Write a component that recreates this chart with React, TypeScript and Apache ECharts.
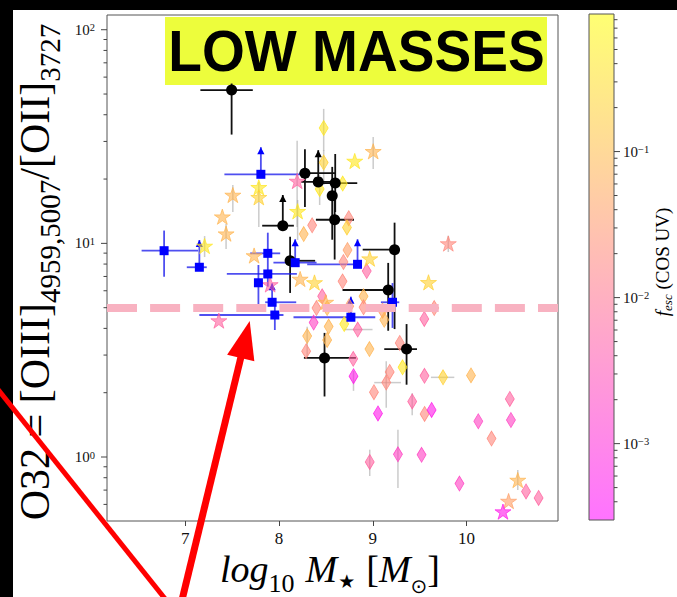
import React, { useEffect, useRef } from 'react';
import * as echarts from 'echarts';

// ---------- axis ranges ----------
const X_MIN = 6.165;
const X_MAX = 10.975;
const Y_MIN = 0.5017;
const Y_MAX = 117.2;
const F_MIN = 0.0003;
const F_MAX = 0.875;
const O32_THRESHOLD = 5;

// ---------- ticks ----------
const xTickValues = [7, 8, 9, 10];
const yTickValues = [1, 10, 100];
const yMinorTickValues = [0.6, 0.7, 0.8, 0.9, 2, 3, 4, 5, 6, 7, 8, 9, 20, 30, 40, 50, 60, 70, 80, 90];
const cbTickValues = [0.001, 0.01, 0.1];
const cbMinorTickValues = [0.0004, 0.0005, 0.0006, 0.0007, 0.0008, 0.0009, 0.002, 0.003, 0.004, 0.005, 0.006, 0.007, 0.008, 0.009, 0.02, 0.03, 0.04, 0.05, 0.06, 0.07, 0.08, 0.09, 0.2, 0.3, 0.4, 0.5, 0.6, 0.7, 0.8];

// ---------- stars (colour = f_esc) ----------
const starLogM = [7.507, 7.395, 7.435, 7.784, 7.784, 8.193, 8.198, 7.206, 7.734, 9.004, 8.807, 9.805, 8.967, 8.225, 8.378, 7.905, 7.358, 9.594, 8.497, 10.546, 10.448, 10.388];
const starO32 = [16.84, 13.33, 11.1, 18.3, 16.43, 19.58, 14.13, 9.72, 8.77, 26.97, 24.29, 9.98, 8.48, 6.81, 6.56, 6.42, 4.35, 6.57, 5.31, 0.78, 0.622, 0.555];
const starFesc = [0.08, 0.08, 0.08, 0.4, 0.2, 0.006, 0.4, 0.4, 0.08, 0.08, 0.4, 0.02, 0.2, 0.08, 0.2, 0.006, 0.006, 0.2, 0.08, 0.08, 0.04, 0.0006];
const starO32Lo = [14.02, null, 9.41, null, 11.93, 11.93, 10.37, 8.63, null, 22.3, null, 9.11, null, null, null, null, null, null, null, 0.7, null, null];
const starO32Hi = [18.76, null, 12.32, null, 19.37, 30.2, 15.95, 10.82, null, 31.5, null, 10.86, null, null, null, null, null, null, null, 0.869, null, null];

// ---------- thin diamonds (colour = f_esc) ----------
const diaLogM = [8.476, 8.476, 8.433, 8.679, 8.353, 8.263, 8.743, 8.724, 8.73, 8.687, 8.935, 8.677, 8.46, 8.399, 8.369, 8.3, 8.289, 8.513, 8.529, 8.513, 8.901, 8.901, 8.748, 8.695, 8.839, 9.104, 9.122, 9.655, 9.549, 8.964, 9.287, 8.791, 8.794, 9.317, 9.18, 9.143, 9.012, 9.551, 9.749, 10.047, 9.42, 9.055, 9.552, 9.627, 10.125, 10.266, 10.461, 10.473, 8.967, 9.268, 9.52, 9.924, 10.634, 10.768];
const diaO32 = [34.67, 23.9, 17.97, 19.06, 12.15, 11.06, 13.11, 11.87, 9.31, 8.18, 7.42, 6.64, 5.65, 4.98, 4.26, 3.68, 3.13, 4.98, 4.08, 3.53, 5.65, 5.02, 5.08, 4.19, 3.95, 4.84, 4.39, 4.98, 4.43, 3.2, 3.42, 2.88, 2.39, 2.63, 2.5, 2.23, 2.01, 2.4, 2.36, 2.41, 1.82, 1.6, 1.59, 1.66, 1.47, 1.22, 1.87, 1.49, 0.948, 1.03, 1.024, 0.751, 0.69, 0.643];
const diaFesc = [0.4, 0.2, 0.4, 0.4, 0.02, 0.08, 0.02, 0.2, 0.04, 0.02, 0.006, 0.02, 0.006, 0.02, 0.002, 0.08, 0.02, 0.08, 0.08, 0.08, 0.08, 0.02, 0.04, 0.4, 0.006, 0.04, 0.08, 0.02, 0.006, 0.08, 0.02, 0.006, 0.0006, 0.4, 0.02, 0.02, 0.02, 0.006, 0.2, 0.08, 0.006, 0.0006, 0.02, 0.0006, 0.002, 0.02, 0.006, 0.002, 0.006, 0.002, 0.002, 0.002, 0.006, 0.006];
const diaO32Lo: (number | null)[] = [27.1, 18.76, 15.12, null, null, null, null, null, null, null, null, null, null, null, null, 2.95, null, null, null, null, null, null, null, null, null, null, null, null, null, null, null, null, 2.04, null, null, 1.7, null, null, null, null, 1.57, null, null, null, null, null, null, null, 0.815, 0.716, null, null, null, null];
const diaO32Hi: (number | null)[] = [42.6, 27.3, 20.9, null, null, null, null, null, null, null, null, null, null, null, null, 4.07, null, null, null, null, null, null, null, null, null, null, null, null, null, null, null, null, 2.53, null, null, 2.81, null, null, null, null, 1.99, null, null, null, null, null, null, null, 1.082, 1.34, null, null, null, null];
const diaLogMLo: (number | null)[] = [null, null, null, null, null, null, null, null, null, null, null, null, null, null, null, null, null, null, null, null, null, null, null, null, 8.695, null, null, null, null, null, null, null, null, null, null, 9.015, null, null, 9.62, null, null, null, null, null, null, null, null, null, null, null, null, null, null, null];
const diaLogMHi: (number | null)[] = [null, null, null, null, null, null, null, null, null, null, null, null, null, null, null, null, null, null, null, null, null, null, null, null, 8.997, null, null, null, null, null, null, null, null, null, null, 9.3, null, null, 9.869, null, null, null, null, null, null, null, null, null, null, null, null, null, null, null];

// ---------- black circles ----------
const blkLogM = [7.494, 8.276, 8.418, 8.599, 8.567, 8.593, 8.04, 8.118, 9.232, 9.164, 9.36, 8.485];
const blkO32 = [52.2, 21.3, 19.4, 19.16, 16.7, 12.9, 12.1, 8.29, 9.34, 6.05, 3.2, 2.91];
const blkLogMLo = [7.161, 8.22, 8.236, 8.417, 8.567, 8.393, 7.82, 8.083, 8.892, 8.677, 9.122, 8.265];
const blkLogMHi = [7.72, 8.6, 8.609, 8.834, 8.567, 8.799, 8.158, 8.385, 9.26, 9.2, 9.471, 8.82];
const blkO32Lo = [32.3, 14.8, 19.4, 14.02, 10.4, 8.4, 12.1, 5.86, 3.97, 3.9, 2.18, 1.92];
const blkO32Hi = [56.0, 27.6, 27.3, 26.2, 22.8, 17.0, 16.84, 10.74, 12.5, 8.1, 4.19, 3.81];
const blkLowerLimit = [0, 0, 1, 0, 0, 0, 1, 0, 0, 0, 0, 0];

// ---------- blue squares ----------
const bluLogM = [7.806, 6.774, 7.15, 7.88, 7.88, 7.78, 7.926, 7.955, 8.172, 8.837, 8.766, 9.21];
const bluO32 = [21.05, 9.24, 7.73, 8.98, 7.19, 6.54, 5.3, 4.62, 8.12, 7.98, 4.51, 5.3];
const bluLogMLo = [7.417, 6.534, 7.016, 7.692, 7.443, 7.78, 7.852, 7.15, 7.94, 8.3, 8.154, 9.086];
const bluLogMHi = [8.225, 7.137, 7.229, 8.012, 8.19, 7.78, 8.183, 8.047, 8.4, 8.837, 9.026, 9.282];
const bluO32Lo = [21.05, 6.98, 7.73, 6.27, 7.19, 5.05, 5.3, 3.93, 8.12, 7.98, 4.51, 4.02];
const bluO32Hi = [28.2, 11.48, 10.37, 11.22, 7.19, 7.92, 6.5, 5.43, 10.45, 10.45, 5.63, 6.52];
const bluLowerLimit = [1, 0, 1, 0, 0, 0, 1, 0, 1, 1, 1, 0];

// ---------- helpers ----------
const SERIF = '"Liberation Serif", "Times New Roman", serif';
const SANS_SYM = '"DejaVu Sans", sans-serif';
const STAR_PATH = 'path://M50 0 L61.17 34.63 L97.55 34.55 L68.07 55.87 L79.39 90.45 L50 69 L20.61 90.45 L31.93 55.87 L2.45 34.55 L38.83 34.63 Z';

function springRGB(f: number): [number, number, number] {
  const lo = Math.log10(F_MIN);
  const hi = Math.log10(F_MAX);
  const t = Math.min(1, Math.max(0, (Math.log10(f) - lo) / (hi - lo)));
  return [255, Math.round(255 * t), Math.round(255 * (1 - t))];
}
function rgba(c: [number, number, number], a: number) {
  return `rgba(${c[0]},${c[1]},${c[2]},${a})`;
}

let _ctx: CanvasRenderingContext2D | null = null;
function measure(text: string, size: number, italic: boolean, family: string) {
  if (!_ctx) _ctx = document.createElement('canvas').getContext('2d');
  _ctx!.font = `${italic ? 'italic' : 'normal'} normal ${size}px ${family}`;
  return _ctx!.measureText(text).width;
}

type Piece = { t: string; size: number; italic?: boolean; dy?: number; gap?: number; family?: string };
function buildPieces(pieces: Piece[], color: string) {
  const widths = pieces.map((p) => measure(p.t, p.size, !!p.italic, p.family || SERIF));
  let total = 0;
  pieces.forEach((p, i) => (total += (p.gap || 0) + widths[i]));
  let x = -total / 2;
  const children: any[] = [];
  pieces.forEach((p, i) => {
    x += p.gap || 0;
    children.push({
      type: 'text',
      x,
      y: p.dy || 0,
      style: {
        text: p.t,
        fontSize: p.size,
        fontFamily: p.family || SERIF,
        fontStyle: p.italic ? 'italic' : 'normal',
        fill: color,
        align: 'left',
        verticalAlign: 'middle',
      },
    });
    x += widths[i];
  });
  return children;
}

function errData(xs: number[], ys: number[], xlo: any[], xhi: any[], ylo: any[], yhi: any[], lim?: number[]) {
  const out: number[][] = [];
  xs.forEach((x, i) => {
    const a = xlo[i] ?? x;
    const b = xhi[i] ?? x;
    const c = ylo[i] ?? ys[i];
    const d = yhi[i] ?? ys[i];
    if (a === x && b === x && c === ys[i] && d === ys[i]) return;
    out.push([x, ys[i], a, b, c, d, lim ? lim[i] : 0]);
  });
  return out;
}

function makeErrRender(stroke: string, width: number, head: string | null) {
  return (_params: any, api: any) => {
    const x = api.value(0);
    const y = api.value(1);
    const c = api.coord([x, y]);
    const l = api.coord([api.value(2), y]);
    const r = api.coord([api.value(3), y]);
    const b = api.coord([x, api.value(4)]);
    const t = api.coord([x, api.value(5)]);
    const lim = api.value(6);
    const children: any[] = [];
    if (r[0] - l[0] > 0.5) {
      children.push({ type: 'line', shape: { x1: l[0], y1: c[1], x2: r[0], y2: c[1] }, style: { stroke, lineWidth: width } });
    }
    if (b[1] - t[1] > 0.5) {
      children.push({ type: 'line', shape: { x1: c[0], y1: b[1], x2: c[0], y2: t[1] }, style: { stroke, lineWidth: width } });
    }
    if (lim && head) {
      children.push({
        type: 'polygon',
        shape: { points: [[c[0] - 3.6, t[1] + 7], [c[0] + 3.6, t[1] + 7], [c[0], t[1]]] },
        style: { fill: head },
      });
    }
    return { type: 'group', children };
  };
}

function tickRender(color: string) {
  return (_params: any, api: any) => {
    const p = api.coord([api.value(0), api.value(1)]);
    const len = api.value(2);
    return { type: 'line', shape: { x1: p[0], y1: p[1], x2: p[0] + len, y2: p[1] }, style: { stroke: color, lineWidth: 1 } };
  };
}

function buildOption() {
  const colorItems = (xs: number[], ys: number[], fs: number[]) =>
    xs.map((x, i) => {
      const c = springRGB(fs[i]);
      return { value: [x, ys[i], fs[i]], itemStyle: { color: rgba(c, 0.6), borderColor: rgba(c, 0.85), borderWidth: 0.8, opacity: 1 } };
    });

  const grayErr = [
    ...errData(starLogM, starO32, starLogM.map(() => null), starLogM.map(() => null), starO32Lo, starO32Hi),
    ...errData(diaLogM, diaO32, diaLogMLo, diaLogMHi, diaO32Lo, diaO32Hi),
  ];

  const tickLabelStyle = { fontFamily: SERIF, color: '#111' };

  const yMajorTicks = [
    ...yTickValues.map((v) => [X_MIN, v, -6]),
    ...yMinorTickValues.map((v) => [X_MIN, v, -3.5]),
  ];
  const cbTicks = [
    ...cbTickValues.map((v) => [1, v, 6]),
    ...cbMinorTickValues.map((v) => [1, v, 3.5]),
  ];

  const arrowTip = [249.7, 321];
  const arrowTail = [182, 600];
  const ux = arrowTip[0] - arrowTail[0];
  const uy = arrowTip[1] - arrowTail[1];
  const ul = Math.hypot(ux, uy);
  const u = [ux / ul, uy / ul];
  const nrm = [-u[1], u[0]];
  const headLen = 38;
  const headHalf = 14;
  const base = [arrowTip[0] - headLen * u[0], arrowTip[1] - headLen * u[1]];

  const richLabel = {
    b: { fontSize: 15, lineHeight: 15, fontFamily: SERIF, color: '#111', verticalAlign: 'bottom' },
    s: { fontSize: 10.5, lineHeight: 10.5, fontFamily: SERIF, color: '#111', padding: [0, 0, 7, 0], verticalAlign: 'top' },
  };

  return {
    animation: false,
    backgroundColor: '#ffffff',
    grid: [
      { left: 107, top: 15, width: 451, height: 506, show: true, borderColor: '#555', borderWidth: 1, backgroundColor: 'transparent' },
      { left: 589, top: 14, width: 25, height: 506 },
    ],
    xAxis: [
      {
        gridIndex: 0,
        type: 'value',
        min: X_MIN,
        max: X_MAX,
        axisLine: { show: false },
        splitLine: { show: false },
        axisTick: { show: true, length: 5, customValues: xTickValues, lineStyle: { color: '#444' } },
        axisLabel: { show: true, customValues: xTickValues, fontSize: 17, margin: 9, ...tickLabelStyle, formatter: (v: number) => String(Math.round(v)) },
      },
      { gridIndex: 1, type: 'value', min: 0, max: 1, show: false },
    ],
    yAxis: [
      {
        gridIndex: 0,
        type: 'log',
        logBase: 10,
        min: Y_MIN,
        max: Y_MAX,
        axisLine: { show: false },
        splitLine: { show: false },
        axisTick: { show: false },
        axisLabel: {
          show: true,
          customValues: yTickValues,
          margin: 12,
          formatter: (v: number) => `{b|10}{s|${Math.round(Math.log10(v))}}`,
          rich: richLabel,
        },
      },
      {
        gridIndex: 1,
        type: 'log',
        logBase: 10,
        min: F_MIN,
        max: F_MAX,
        position: 'right',
        axisLine: { show: false },
        splitLine: { show: false },
        axisTick: { show: false },
        axisLabel: {
          show: true,
          customValues: cbTickValues,
          margin: 9,
          formatter: (v: number) => `{b|10}{s|\u2212${Math.round(-Math.log10(v))}}`,
          rich: richLabel,
        },
      },
    ],
    series: [
      {
        type: 'custom',
        name: 'grayErr',
        xAxisIndex: 0,
        yAxisIndex: 0,
        clip: true,
        silent: true,
        data: grayErr,
        renderItem: makeErrRender('rgba(160,160,160,0.55)', 1.5, null),
      },
      {
        type: 'scatter',
        name: 'diamonds',
        xAxisIndex: 0,
        yAxisIndex: 0,
        symbol: 'diamond',
        symbolSize: [9, 15],
        silent: true,
        data: colorItems(diaLogM, diaO32, diaFesc),
        markLine: {
          silent: true,
          symbol: ['none', 'none'],
          label: { show: false },
          lineStyle: { color: '#f8b2c1', width: 8, type: [30, 13.1], opacity: 1 },
          data: [{ yAxis: O32_THRESHOLD }],
        },
      },
      {
        type: 'scatter',
        name: 'stars',
        xAxisIndex: 0,
        yAxisIndex: 0,
        symbol: STAR_PATH,
        symbolKeepAspect: true,
        symbolSize: 16,
        silent: true,
        data: colorItems(starLogM, starO32, starFesc),
      },
      {
        type: 'custom',
        name: 'blackErr',
        xAxisIndex: 0,
        yAxisIndex: 0,
        clip: false,
        silent: true,
        data: errData(blkLogM, blkO32, blkLogMLo, blkLogMHi, blkO32Lo, blkO32Hi, blkLowerLimit),
        renderItem: makeErrRender('#111', 1.8, '#000'),
      },
      {
        type: 'scatter',
        name: 'black',
        xAxisIndex: 0,
        yAxisIndex: 0,
        symbol: 'circle',
        symbolSize: 11,
        silent: true,
        itemStyle: { color: '#000', opacity: 1 },
        data: blkLogM.map((x, i) => [x, blkO32[i]]),
      },
      {
        type: 'custom',
        name: 'blueErr',
        xAxisIndex: 0,
        yAxisIndex: 0,
        clip: false,
        silent: true,
        data: errData(bluLogM, bluO32, bluLogMLo, bluLogMHi, bluO32Lo, bluO32Hi, bluLowerLimit),
        renderItem: makeErrRender('rgba(20,20,235,0.75)', 1.8, '#0000ff'),
      },
      {
        type: 'scatter',
        name: 'blue',
        xAxisIndex: 0,
        yAxisIndex: 0,
        symbol: 'rect',
        symbolSize: 9,
        silent: true,
        itemStyle: { color: '#0000ff', opacity: 1 },
        data: bluLogM.map((x, i) => [x, bluO32[i]]),
      },
      {
        type: 'custom',
        name: 'yTicks',
        xAxisIndex: 0,
        yAxisIndex: 0,
        clip: false,
        silent: true,
        data: yMajorTicks,
        renderItem: tickRender('#444'),
      },
      {
        type: 'custom',
        name: 'colorbar',
        xAxisIndex: 1,
        yAxisIndex: 1,
        clip: false,
        silent: true,
        data: [[0, F_MIN]],
        renderItem: (_p: any, api: any) => {
          const p0 = api.coord([0, F_MIN]);
          const p1 = api.coord([1, F_MAX]);
          const lo = springRGB(F_MIN);
          const hi = springRGB(F_MAX);
          return {
            type: 'rect',
            shape: { x: p0[0], y: p1[1], width: p1[0] - p0[0], height: p0[1] - p1[1] },
            style: {
              fill: {
                type: 'linear', x: 0, y: 0, x2: 0, y2: 1,
                colorStops: [
                  { offset: 0, color: rgba(hi, 0.55) },
                  { offset: 1, color: rgba(lo, 0.55) },
                ],
              },
              stroke: '#555',
              lineWidth: 1,
            },
          };
        },
      },
      {
        type: 'custom',
        name: 'cbTicks',
        xAxisIndex: 1,
        yAxisIndex: 1,
        clip: false,
        silent: true,
        data: cbTicks,
        renderItem: tickRender('#444'),
      },
    ],
    graphic: [
      { type: 'rect', silent: true, shape: { x: 0, y: 0, width: 677, height: 10 }, style: { fill: '#000' } },
      { type: 'rect', silent: true, shape: { x: 0, y: 0, width: 13, height: 597 }, style: { fill: '#000' } },
      { type: 'rect', silent: true, shape: { x: 165, y: 17, width: 382, height: 68 }, style: { fill: '#edfd3c' } },
      {
        type: 'text',
        silent: true,
        x: 356.5,
        y: 51,
        scaleX: 0.95,
        style: { text: 'LOW MASSES', fontFamily: '"Liberation Sans", Arial, sans-serif', fontWeight: 'bold', fontSize: 58, fill: '#000', align: 'center', verticalAlign: 'middle' },
      },
      {
        type: 'group',
        silent: true,
        x: 35,
        y: 272,
        rotation: Math.PI / 2,
        children: buildPieces(
          [
            { t: 'O32 = [OIII]', size: 42 },
            { t: '4959,5007', size: 29, dy: 15 },
            { t: '/[OII]', size: 42 },
            { t: '3727', size: 29, dy: 15 },
          ],
          '#000'
        ),
      },
      {
        type: 'group',
        silent: true,
        x: 330,
        y: 569,
        children: buildPieces(
          [
            { t: 'log', size: 38, italic: true },
            { t: '10', size: 26, dy: 14 },
            { t: 'M', size: 38, italic: true, gap: 11 },
            { t: '\u2605', size: 19, dy: 12, family: SANS_SYM, gap: 1 },
            { t: '[', size: 38, gap: 11 },
            { t: 'M', size: 38, italic: true },
            { t: '\u2299', size: 20, dy: 17, family: SANS_SYM },
            { t: ']', size: 38 },
          ],
          '#000'
        ),
      },
      {
        type: 'group',
        silent: true,
        x: 662,
        y: 262,
        rotation: Math.PI / 2,
        children: buildPieces(
          [
            { t: 'f', size: 19, italic: true },
            { t: 'esc', size: 13, italic: true, dy: 5 },
            { t: ' (COS UV)', size: 19 },
          ],
          '#000'
        ),
      },
      { type: 'line', silent: true, shape: { x1: -2, y1: 389.5, x2: 166, y2: 600 }, style: { stroke: '#ff0000', lineWidth: 5 } },
      { type: 'line', silent: true, shape: { x1: arrowTail[0], y1: arrowTail[1], x2: base[0] + 2 * u[0], y2: base[1] + 2 * u[1] }, style: { stroke: '#ff0000', lineWidth: 7 } },
      {
        type: 'polygon',
        silent: true,
        shape: {
          points: [
            [arrowTip[0], arrowTip[1]],
            [base[0] + headHalf * nrm[0], base[1] + headHalf * nrm[1]],
            [base[0] - headHalf * nrm[0], base[1] - headHalf * nrm[1]],
          ],
        },
        style: { fill: '#ff0000' },
      },
    ],
  };
}

export default function App() {
  const ref = useRef<HTMLDivElement>(null);
  useEffect(() => {
    if (!ref.current) return;
    const chart = echarts.init(ref.current, null, { renderer: 'svg' });
    chart.setOption(buildOption() as any);
    return () => chart.dispose();
  }, []);
  return <div ref={ref} style={{ position: 'fixed', left: 0, top: 0, width: 677, height: 597, background: '#fff' }} />;
}
